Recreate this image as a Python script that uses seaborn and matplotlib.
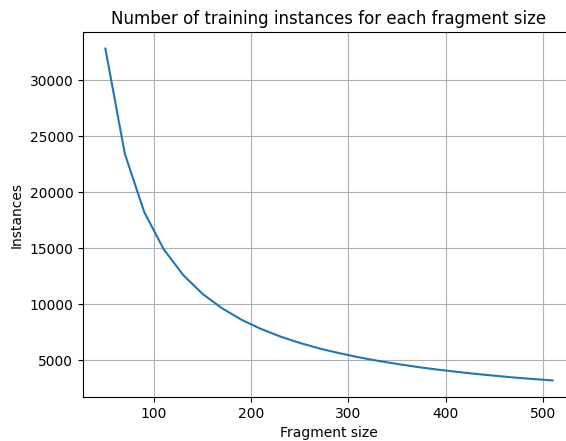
import matplotlib
matplotlib.use("Agg")
import matplotlib.pyplot as plt
import seaborn as sns
import pandas as pd

fragment_sizes = [50, 70, 90, 110, 130, 150, 170, 190, 210, 230, 250, 270,
                  290, 310, 330, 350, 370, 390, 410, 430, 450, 470, 490, 510]
instances = [32800, 23430, 18220, 14910, 12620, 10930, 9650, 8630, 7810, 7130,
             6560, 6070, 5660, 5290, 4970, 4690, 4430, 4200, 4000, 3810,
             3640, 3480, 3340, 3220]

df = pd.DataFrame({"Fragment size": fragment_sizes, "Instances": instances})

fig = plt.figure(figsize=(5.66, 4.41), dpi=100)
ax = fig.add_axes([83 / 566, 1 - 397 / 441, 492 / 566, (397 - 32) / 441])
sns.lineplot(data=df, x="Fragment size", y="Instances", ax=ax, color="#1f77b4")
ax.grid(True, color="#b0b0b0", linewidth=0.8)
ax.set_axisbelow(True)
ax.set_title("Number of training instances for each fragment size")
ax.set_xlabel("Fragment size")
ax.set_ylabel("Instances")
ax.set_xticks([100, 200, 300, 400, 500])
ax.set_yticks([5000, 10000, 15000, 20000, 25000, 30000])
fig.savefig("out.png", dpi=100)
